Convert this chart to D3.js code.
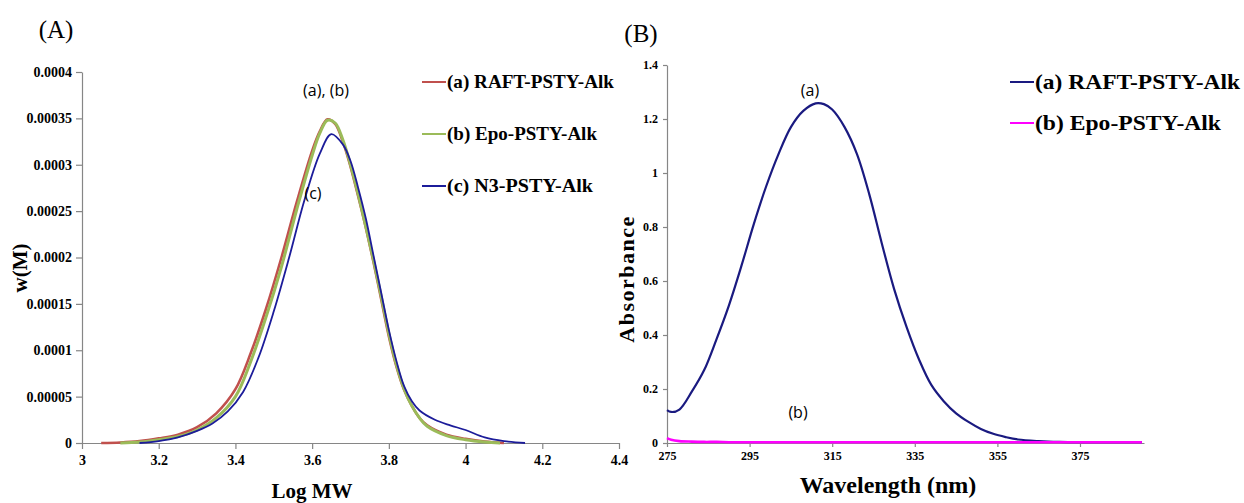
<!DOCTYPE html>
<html>
<head>
<meta charset="utf-8">
<script src="https://cdn.jsdelivr.net/npm/d3@7"></script>
<style>
  body { margin: 0; background: #fff; }
  svg { display: block; }
  .tick text { font-family: 'Liberation Serif', serif; font-weight: bold; fill: #000; }
</style>
</head>
<body>
<svg></svg>
<script>
// ---- panel A data (GPC, w(M) vs Log MW) ----
let raftLogMW = [3.05, 3.10, 3.15, 3.20, 3.25, 3.30, 3.35, 3.40, 3.44, 3.48, 3.52, 3.56, 3.60, 3.62, 3.64, 3.66, 3.68, 3.70, 3.72, 3.74, 3.76, 3.78, 3.80, 3.82, 3.84, 3.86, 3.88, 3.90, 3.95, 4.00, 4.05, 4.10]
let raftW = [0, 0.0000005, 0.000002, 0.000005, 0.000009, 0.000017, 0.000032, 0.000058, 0.000097, 0.000145, 0.0002, 0.00026, 0.000315, 0.000336, 0.000349, 0.000344, 0.000325, 0.000298, 0.000266, 0.000232, 0.000195, 0.000155, 0.000115, 0.000082, 0.000057, 0.00004, 0.000027, 0.000019, 0.000009, 0.0000045, 0.0000015, 0]

let epoLogMW = [3.10, 3.15, 3.20, 3.25, 3.30, 3.35, 3.40, 3.44, 3.48, 3.52, 3.56, 3.60, 3.62, 3.64, 3.66, 3.68, 3.70, 3.72, 3.74, 3.76, 3.78, 3.80, 3.82, 3.84, 3.86, 3.88, 3.90, 3.95, 4.00, 4.05, 4.09]
let epoW = [0, 0.000001, 0.0000035, 0.000007, 0.000014, 0.000027, 0.00005, 0.000088, 0.000136, 0.00019, 0.000252, 0.00031, 0.000334, 0.000348, 0.000345, 0.000327, 0.0003, 0.000268, 0.000233, 0.000197, 0.000158, 0.000118, 0.000084, 0.000058, 0.00004, 0.000027, 0.000018, 0.000008, 0.0000035, 0.000001, 0]

let n3LogMW = [3.15, 3.20, 3.25, 3.30, 3.34, 3.38, 3.42, 3.46, 3.50, 3.54, 3.58, 3.62, 3.65, 3.68, 3.70, 3.72, 3.74, 3.76, 3.78, 3.80, 3.82, 3.84, 3.86, 3.88, 3.92, 3.96, 4.00, 4.05, 4.10, 4.155]
let n3W = [0, 0.000002, 0.000006, 0.000013, 0.000021, 0.000034, 0.000055, 0.000092, 0.000142, 0.0002, 0.000262, 0.000312, 0.000333, 0.000322, 0.000304, 0.000275, 0.000242, 0.000202, 0.000162, 0.000122, 0.000088, 0.000061, 0.000045, 0.000035, 0.000025, 0.000019, 0.000014, 0.000006, 0.000002, 0]

let aXTicks = [3, 3.2, 3.4, 3.6, 3.8, 4, 4.2, 4.4]
let aYTicks = [0, 0.00005, 0.0001, 0.00015, 0.0002, 0.00025, 0.0003, 0.00035, 0.0004]
let aYLabels = ['0', '0.00005', '0.0001', '0.00015', '0.0002', '0.00025', '0.0003', '0.00035', '0.0004']

// ---- panel B data (UV, absorbance vs wavelength) ----
let wavelength = [275, 276, 278, 281, 284, 287, 290, 293, 296, 299, 302, 305, 308, 311, 313, 315, 318, 321, 324, 327, 330, 333, 336, 339, 342, 345, 348, 351, 354, 357, 360, 365, 370, 375, 380, 390]
let raftAbs = [0.122, 0.115, 0.124, 0.19, 0.27, 0.385, 0.51, 0.655, 0.81, 0.95, 1.07, 1.17, 1.23, 1.258, 1.255, 1.235, 1.17, 1.07, 0.92, 0.74, 0.57, 0.43, 0.31, 0.215, 0.155, 0.11, 0.078, 0.052, 0.034, 0.022, 0.013, 0.007, 0.004, 0.003, 0.003, 0.003]
let epoAbs = [0.018, 0.012, 0.007, 0.005, 0.004, 0.004, 0.003, 0.003, 0.003, 0.003, 0.003, 0.003, 0.003, 0.003, 0.003, 0.003, 0.003, 0.003, 0.003, 0.003, 0.003, 0.003, 0.003, 0.003, 0.003, 0.003, 0.003, 0.003, 0.003, 0.003, 0.003, 0.003, 0.003, 0.003, 0.003, 0.003]

let bXTicks = [275, 295, 315, 335, 355, 375]
let bYTicks = [0, 0.2, 0.4, 0.6, 0.8, 1, 1.2, 1.4]

let seriesA = [
  {name: 'RAFT-PSTY-Alk', tag: '(a)', x: raftLogMW, y: raftW, color: '#c0504d', width: 2.6},
  {name: 'Epo-PSTY-Alk', tag: '(b)', x: epoLogMW, y: epoW, color: '#9bbb59', width: 3},
  {name: 'N3-PSTY-Alk', tag: '(c)', x: n3LogMW, y: n3W, color: '#1c1c9a', width: 1.8}
]
let seriesB = [
  {name: 'RAFT-PSTY-Alk', tag: '(a)', x: wavelength, y: raftAbs, color: '#1a1a80', width: 2.2},
  {name: 'Epo-PSTY-Alk', tag: '(b)', x: wavelength, y: epoAbs, color: '#ff00ff', width: 2.6}
]

let width = 1244
let height = 503
let axisColor = '#868686'

let svg = d3.select('svg')
  .attr('width', width)
  .attr('height', height)

let styleAxis = (g, size) => {
  g.select('.domain').attr('stroke', axisColor).attr('stroke-width', 1.2)
  g.selectAll('.tick line').attr('stroke', axisColor).attr('stroke-width', 1.2)
  g.selectAll('.tick text').style('font-size', size + 'px')
}

let drawLines = (series, xScale, yScale) => {
  let line = d3.line()
    .x((d) => xScale(d[0]))
    .y((d) => yScale(d[1]))
    .curve(d3.curveCatmullRom.alpha(0.5))
  series.forEach((s) => {
    svg.append('path')
       .datum(s.x.map((v, i) => [v, s.y[i]]))
       .attr('d', line)
       .attr('fill', 'none')
       .attr('stroke', s.color)
       .attr('stroke-width', s.width)
       .attr('stroke-linejoin', 'round')
  })
}

let drawLegend = (series, x, y0, step, size, widths) => {
  series.forEach((s, i) => {
    let y = y0 + i * step
    svg.append('line')
       .attr('x1', x).attr('x2', x + 24)
       .attr('y1', y).attr('y2', y)
       .attr('stroke', s.color)
       .attr('stroke-width', 2)
    svg.append('text')
       .attr('x', x + 25)
       .attr('y', y + size * 0.33)
       .attr('textLength', widths[i])
       .attr('lengthAdjust', 'spacingAndGlyphs')
       .style('font-family', "'Liberation Serif', serif")
       .style('font-size', size + 'px')
       .style('font-weight', 'bold')
       .text(s.tag + ' ' + s.name)
  })
}

let label = (text, x, y, opts) => {
  let t = svg.append('text')
    .attr('x', x)
    .attr('y', y)
    .attr('text-anchor', opts.anchor || 'middle')
    .style('font-family', opts.family || "'Liberation Serif', serif")
    .style('font-size', opts.size + 'px')
    .style('font-weight', opts.weight || 'normal')
    .style('letter-spacing', opts.spacing || 0)
    .text(text)
  if (opts.rotate) t.attr('transform', 'rotate(-90,' + x + ',' + y + ')')
  return t
}

// ---------- panel A ----------
let axScale = d3.scaleLinear().domain([3, 4.4]).range([82, 619])
let ayScale = d3.scaleLinear().domain([0, 0.0004]).range([443, 72])

svg.append('g')
   .attr('transform', 'translate(0,443)')
   .call(d3.axisBottom(axScale).tickValues(aXTicks).tickFormat(d3.format('')).tickSize(6).tickSizeOuter(0).tickPadding(6))
   .call((g) => styleAxis(g, 14))

svg.append('g')
   .attr('transform', 'translate(82,0)')
   .call(d3.axisLeft(ayScale).tickValues(aYTicks).tickFormat((d, i) => aYLabels[i]).tickSize(6).tickSizeOuter(0).tickPadding(4))
   .call((g) => styleAxis(g, 14))

drawLines(seriesA, axScale, ayScale)
drawLegend(seriesA, 422, 82, 52, 19, [167, 150, 146])

label('(A)', 56, 38, {size: 25})
label('Log MW', 312, 498, {size: 21, weight: 'bold'})
label('w(M)', 27, 268, {size: 21, weight: 'bold', rotate: true})
label('(a), (b)', 326, 96, {size: 16, family: "'Open Sans', sans-serif"})
label('(c)', 313, 199, {size: 16, family: "'Open Sans', sans-serif"})

// ---------- panel B ----------
let bxScale = d3.scaleLinear().domain([275, 390.5]).range([667, 1144])
let byScale = d3.scaleLinear().domain([0, 1.4]).range([443, 65])

svg.append('g')
   .attr('transform', 'translate(0,443)')
   .call(d3.axisBottom(bxScale).tickValues(bXTicks).tickFormat(d3.format('d')).tickSize(4).tickSizeOuter(0).tickPadding(4))
   .call((g) => styleAxis(g, 12))

svg.append('g')
   .attr('transform', 'translate(667,0)')
   .call(d3.axisLeft(byScale).tickValues(bYTicks).tickFormat(d3.format('')).tickSize(4).tickSizeOuter(0).tickPadding(5))
   .call((g) => styleAxis(g, 12))

drawLines(seriesB, bxScale, byScale)
drawLegend(seriesB, 1010, 82, 41, 22, [205, 186])

label('(B)', 641, 42, {size: 25})
label('Wavelength (nm)', 888, 493, {size: 24, weight: 'bold'})
label('Absorbance', 634, 279, {size: 22, weight: 'bold', spacing: '1.5px', rotate: true})
label('(a)', 810, 96, {size: 16, family: "'Open Sans', sans-serif"})
label('(b)', 798, 418, {size: 16, family: "'Open Sans', sans-serif"})
</script>
</body>
</html>
